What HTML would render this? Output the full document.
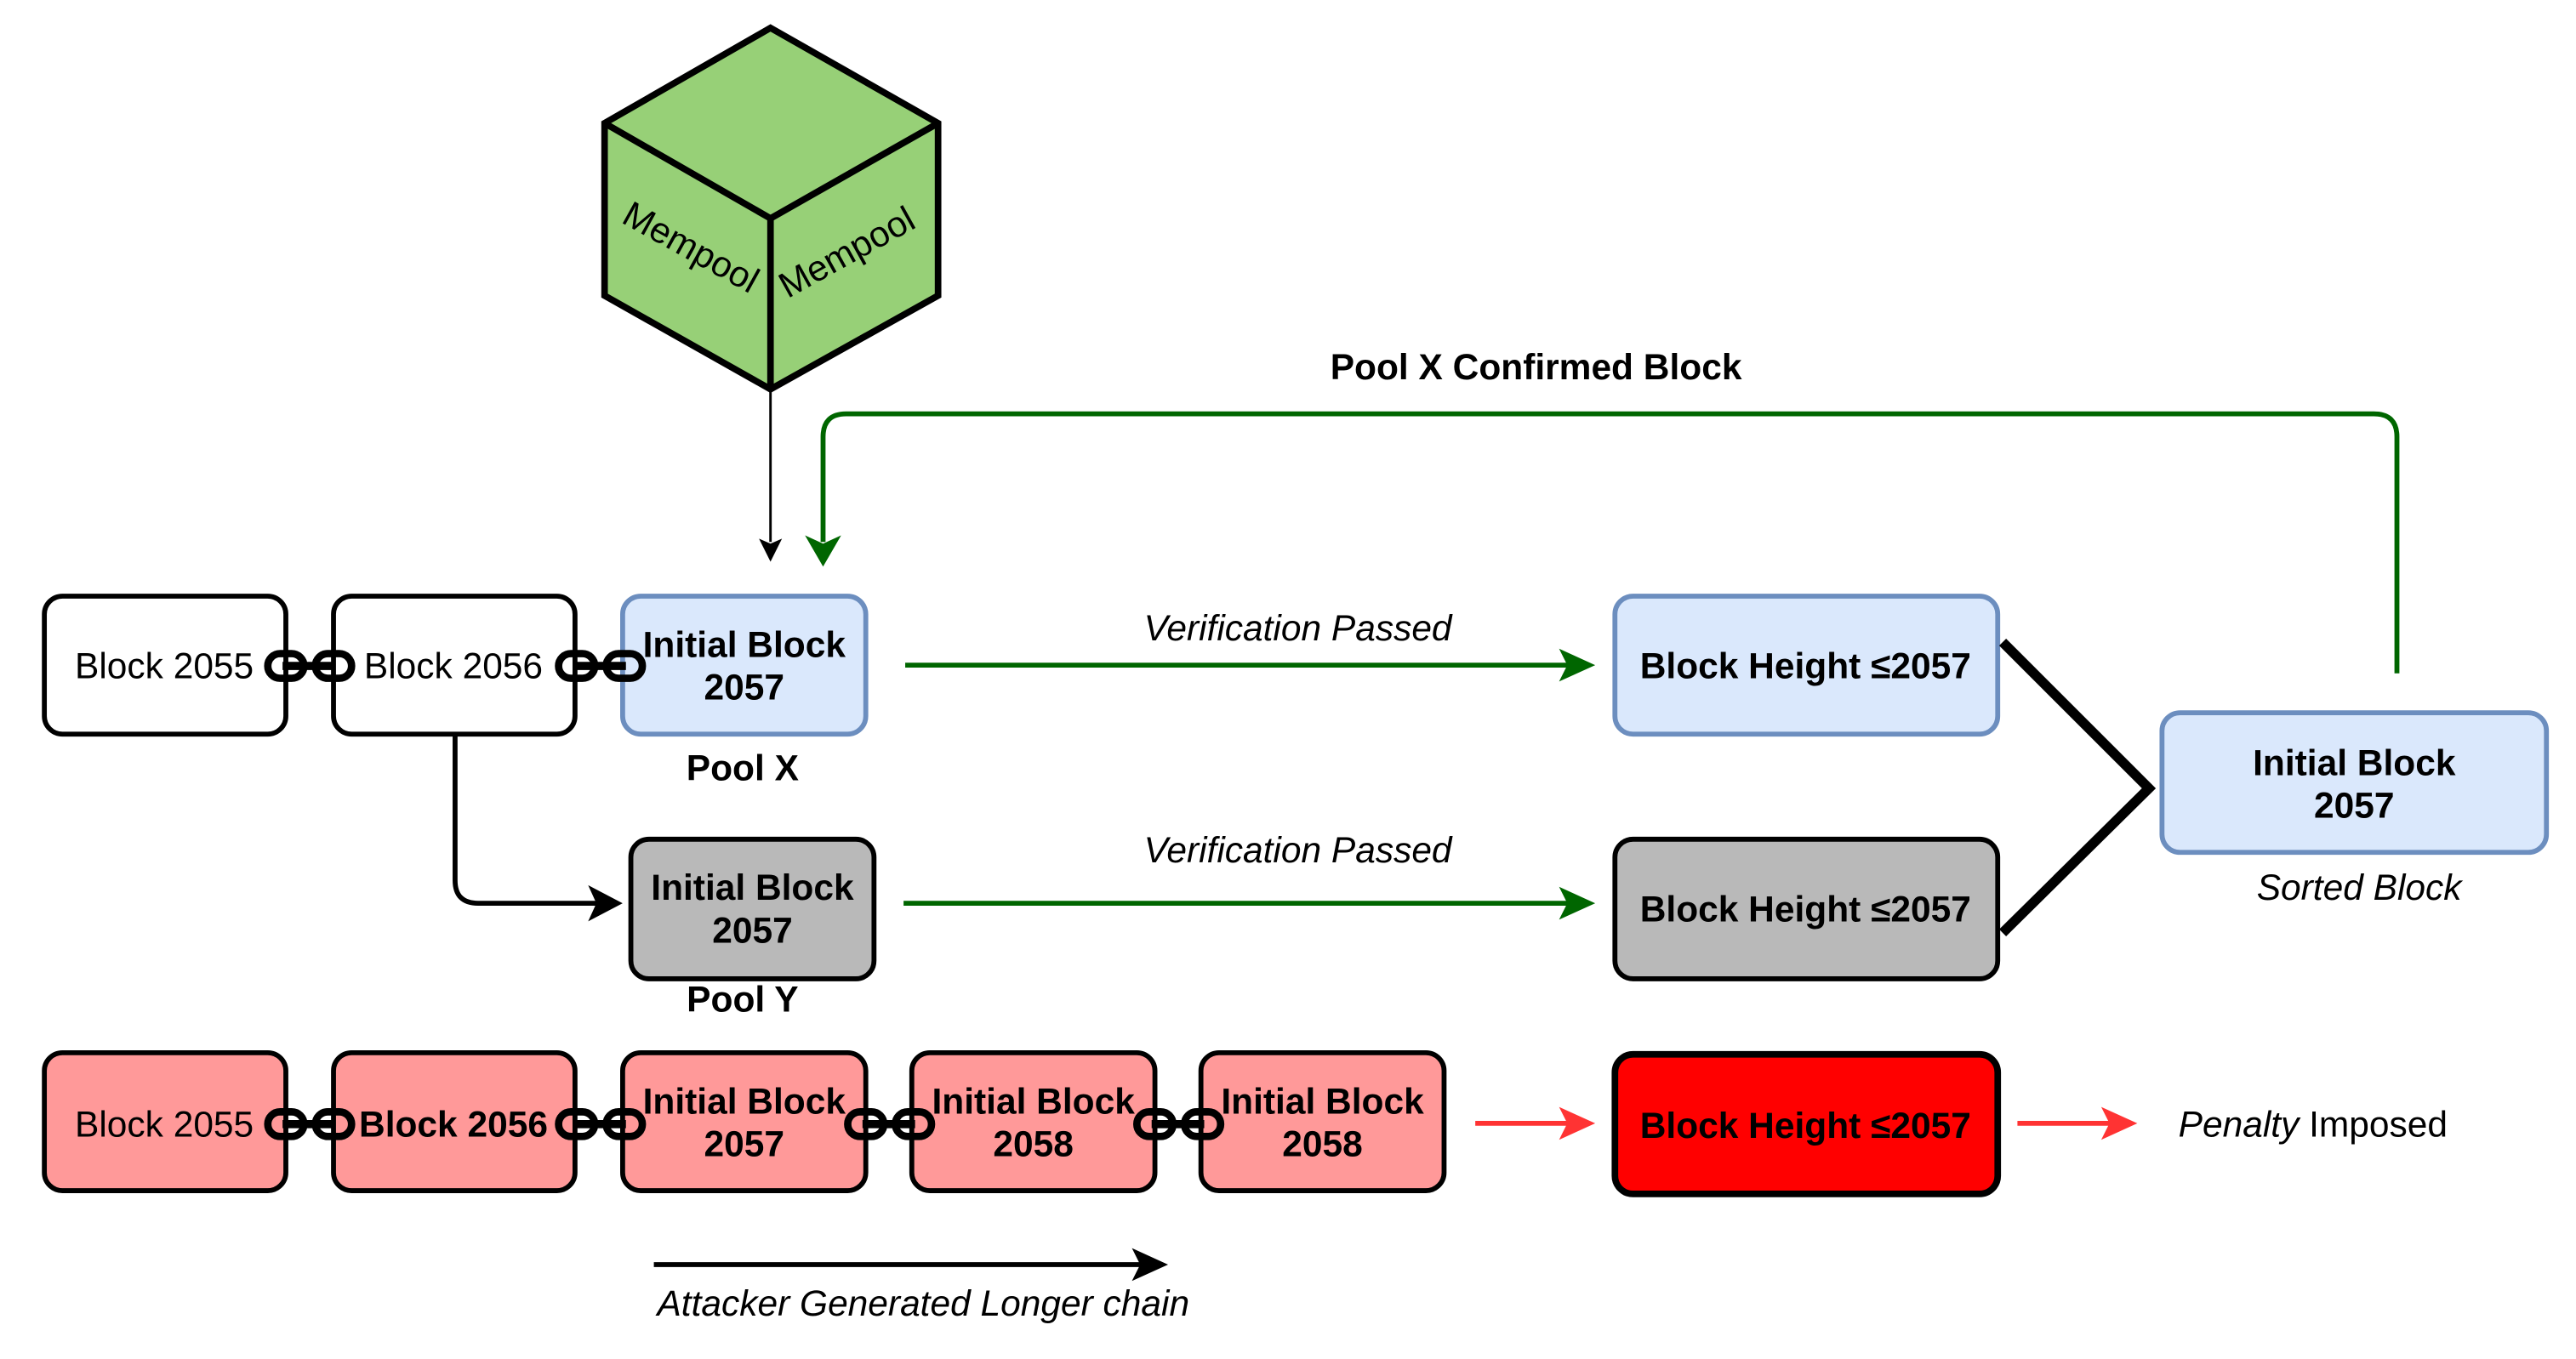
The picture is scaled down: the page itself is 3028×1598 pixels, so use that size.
<!DOCTYPE html>
<html><head><meta charset="utf-8"><style>html,body{margin:0;padding:0;background:#fff}svg{display:block}text{font-family:"Liberation Sans",Arial,sans-serif;font-size:22px}</style></head><body>
<svg width="3028" height="1598" viewBox="0 0 1568 827.5" xmlns="http://www.w3.org/2000/svg">
<!-- cube -->
<g stroke="#000" stroke-width="4" stroke-linejoin="miter" fill="#97D077">
<polygon points="469,17 571,75 571,180 469,237 368,180 368,75"/>
<polyline points="368,75 469,133 571,75" fill="none"/>
<line x1="469" y1="133" x2="469" y2="237"/>
</g>
<text transform="translate(417,157) rotate(29)" text-anchor="middle" font-size="22">Mempool</text>
<text transform="translate(519,160) rotate(-29)" text-anchor="middle" font-size="22">Mempool</text>
<line x1="469" y1="237" x2="469" y2="330" stroke="#000" stroke-width="1.5"/>
<path d="M462,328 L469,342 L476,328 L469,331z" fill="#000"/>
<!-- green feedback -->
<path d="M1459,410 L1459,266 Q1459,252 1445,252 L515,252 Q501,252 501,266 L501,330" fill="none" stroke="#006600" stroke-width="3"/>
<path d="M490,326 L501,345 L512,326 L501,331z" fill="#006600"/>
<text x="935" y="231" text-anchor="middle" font-weight="bold">Pool X Confirmed Block</text>
<!-- boxes -->
<g stroke-width="3">
<rect x="27" y="363" width="147" height="84" rx="11" fill="#fff" stroke="#000"/>
<rect x="203" y="363" width="147" height="84" rx="11" fill="#fff" stroke="#000"/>
<rect x="379" y="363" width="148" height="84" rx="11" fill="#dae8fc" stroke="#6c8ebf"/>
<rect x="384" y="511" width="148" height="85" rx="11" fill="#b9b9b9" stroke="#000"/>
<rect x="983" y="363" width="233" height="84" rx="11" fill="#dae8fc" stroke="#6c8ebf"/>
<rect x="983" y="511" width="233" height="85" rx="11" fill="#b9b9b9" stroke="#000"/>
<rect x="983" y="642" width="233" height="85" rx="11" fill="#ff0000" stroke="#000" stroke-width="4"/>
<rect x="1316" y="434" width="234" height="85" rx="11" fill="#dae8fc" stroke="#6c8ebf"/>
<rect x="27" y="641" width="147" height="84" rx="11" fill="#ff9999" stroke="#000"/>
<rect x="203" y="641" width="147" height="84" rx="11" fill="#ff9999" stroke="#000"/>
<rect x="379" y="641" width="148" height="84" rx="11" fill="#ff9999" stroke="#000"/>
<rect x="555" y="641" width="148" height="84" rx="11" fill="#ff9999" stroke="#000"/>
<rect x="731" y="641" width="148" height="84" rx="11" fill="#ff9999" stroke="#000"/>
</g>
<!-- chain links -->
<g fill="none" stroke="#000" stroke-width="4.5">
<rect x="163" y="398" width="22" height="15" rx="7.5"/><rect x="192" y="398" width="22" height="15" rx="7.5"/><line x1="172" y1="405.5" x2="204" y2="405.5" stroke-width="5"/>
<rect x="340" y="398" width="22" height="15" rx="7.5"/><rect x="369" y="398" width="22" height="15" rx="7.5"/><line x1="349" y1="405.5" x2="381" y2="405.5" stroke-width="5"/>
<rect x="163" y="677" width="22" height="15" rx="7.5"/><rect x="192" y="677" width="22" height="15" rx="7.5"/><line x1="172" y1="684.5" x2="204" y2="684.5" stroke-width="5"/>
<rect x="340" y="677" width="22" height="15" rx="7.5"/><rect x="369" y="677" width="22" height="15" rx="7.5"/><line x1="349" y1="684.5" x2="381" y2="684.5" stroke-width="5"/>
<rect x="516" y="677" width="22" height="15" rx="7.5"/><rect x="545" y="677" width="22" height="15" rx="7.5"/><line x1="525" y1="684.5" x2="557" y2="684.5" stroke-width="5"/>
<rect x="692" y="677" width="22" height="15" rx="7.5"/><rect x="721" y="677" width="22" height="15" rx="7.5"/><line x1="701" y1="684.5" x2="733" y2="684.5" stroke-width="5"/>
</g>
<!-- texts -->
<g text-anchor="middle">
<text x="100" y="413">Block 2055</text>
<text x="276" y="413">Block 2056</text>
<text x="453" y="400" font-weight="bold">Initial Block</text>
<text x="453" y="426" font-weight="bold">2057</text>
<text x="452" y="475" font-weight="bold">Pool X</text>
<text x="458" y="548" font-weight="bold">Initial Block</text>
<text x="458" y="574" font-weight="bold">2057</text>
<text x="452" y="616" font-weight="bold">Pool Y</text>
<text x="1099" y="413" font-weight="bold">Block Height ≤2057</text>
<text x="1099" y="561" font-weight="bold">Block Height ≤2057</text>
<text x="1099" y="693" font-weight="bold">Block Height ≤2057</text>
<text x="1433" y="472" font-weight="bold">Initial Block</text>
<text x="1433" y="498" font-weight="bold">2057</text>
<text x="1436" y="548" font-style="italic">Sorted Block</text>
<text x="790" y="390" font-style="italic">Verification Passed</text>
<text x="790" y="525" font-style="italic">Verification Passed</text>
<text x="100" y="692">Block 2055</text>
<text x="276" y="692" font-weight="bold">Block 2056</text>
<text x="453" y="678" font-weight="bold">Initial Block</text>
<text x="453" y="704" font-weight="bold">2057</text>
<text x="629" y="678" font-weight="bold">Initial Block</text>
<text x="629" y="704" font-weight="bold">2058</text>
<text x="805" y="678" font-weight="bold">Initial Block</text>
<text x="805" y="704" font-weight="bold">2058</text>
<text x="562" y="801" font-style="italic">Attacker Generated Longer chain</text>
</g>
<text x="1326" y="692"><tspan font-style="italic">Penalty</tspan> Imposed</text>
<!-- connectors -->
<path d="M277,448 L277,536 Q277,550 291,550 L366,550" fill="none" stroke="#000" stroke-width="3"/>
<path d="M358,539 L379,550 L358,561 L363,550z" fill="#000"/>
<line x1="551" y1="405" x2="955" y2="405" stroke="#006600" stroke-width="3"/>
<path d="M949,395 L971,405 L949,415 L954,405z" fill="#006600"/>
<line x1="550" y1="550" x2="955" y2="550" stroke="#006600" stroke-width="3"/>
<path d="M949,540 L971,550 L949,560 L954,550z" fill="#006600"/>
<polyline points="1219,391 1308,480 1219,568" fill="none" stroke="#000" stroke-width="6"/>
<line x1="898" y1="684" x2="955" y2="684" stroke="#ff3333" stroke-width="3"/>
<path d="M949,674 L971,684 L949,694 L954,684z" fill="#ff3333"/>
<line x1="1228" y1="684" x2="1285" y2="684" stroke="#ff3333" stroke-width="3"/>
<path d="M1279,674 L1301,684 L1279,694 L1284,684z" fill="#ff3333"/>
<line x1="398" y1="770" x2="695" y2="770" stroke="#000" stroke-width="3"/>
<path d="M689,760 L711,770 L689,780 L694,770z" fill="#000"/>
</svg>
</body></html>
